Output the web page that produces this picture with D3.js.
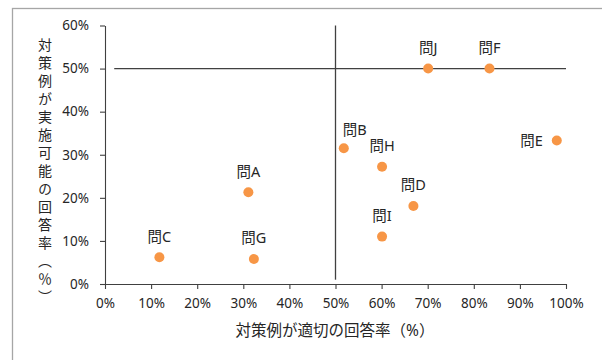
<!DOCTYPE html>
<html>
<head>
<meta charset="utf-8">
<script src="https://cdn.jsdelivr.net/npm/d3@7"></script>
<style>
  html, body { margin: 0; padding: 0; background: #fff; }
  svg { display: block; }
  text { font-family: "Noto Sans", "Noto Sans CJK JP", sans-serif; fill: #262626; }
</style>
</head>
<body>
<script>
// Question names with their two response rates (fractions)
const questions = ["問A", "問B", "問C", "問D", "問E", "問F", "問G", "問H", "問I", "問J"];
const appropriateRate = [0.311, 0.518, 0.118, 0.669, 0.980, 0.834, 0.323, 0.601, 0.601, 0.701];
const feasibleRate    = [0.213, 0.315, 0.062, 0.181, 0.333, 0.500, 0.058, 0.272, 0.110, 0.500];

// Axis ticks
const xTicks = [0, 0.1, 0.2, 0.3, 0.4, 0.5, 0.6, 0.7, 0.8, 0.9, 1.0];
const yTicks = [0, 0.1, 0.2, 0.3, 0.4, 0.5, 0.6];

// Quadrant divider lines (x1, y1, x2, y2 in data units)
const hLine = [0.02, 0.5, 1.0, 0.5];
const vLine = [0.5, 0.01, 0.5, 0.6];

const xTitle = "対策例が適切の回答率（%）";
const yTitle = "対策例が実施可能の回答率（％）";

const W = 602, H = 360;
const svg = d3.select("body").append("svg").attr("width", W).attr("height", H);

// Chart frame
svg.append("rect")
  .attr("x", 12.5).attr("y", 8.5).attr("width", 620).attr("height", 380)
  .attr("fill", "none").attr("stroke", "#a6a6a6").attr("stroke-width", 1.3);

const x = d3.scaleLinear().domain([0, 1]).range([105, 566]);
const y = d3.scaleLinear().domain([0, 0.6]).range([284, 25.5]);

const pct = d3.format(".0%");

// Axes
const gx = svg.append("g").attr("transform", `translate(0,${y(0)})`)
  .call(d3.axisBottom(x).tickValues(xTicks).tickFormat(pct).tickSize(5).tickSizeOuter(0).tickPadding(9));
const gy = svg.append("g").attr("transform", `translate(${x(0)},0)`)
  .call(d3.axisLeft(y).tickValues(yTicks).tickFormat(pct).tickSize(5).tickSizeOuter(0).tickPadding(11));
[gx, gy].forEach(g => {
  g.selectAll("path, line").attr("stroke", "#404040").attr("stroke-width", 1.1);
  g.selectAll("text").style("font-size", "13.5px").attr("fill", "#262626");
});

// Quadrant divider lines
[hLine, vLine].forEach(l => {
  svg.append("line")
    .attr("x1", x(l[0])).attr("y1", y(l[1]))
    .attr("x2", x(l[2])).attr("y2", y(l[3]))
    .attr("stroke", "#404040").attr("stroke-width", 1.3);
});

const data = questions.map((q, i) => ({ q, vx: appropriateRate[i], vy: feasibleRate[i] }));

// Points
svg.append("g").selectAll("circle").data(data).join("circle")
  .attr("cx", d => x(d.vx)).attr("cy", d => y(d.vy)).attr("r", 5)
  .attr("fill", "#f79646");

// Point labels: above by default, a few placed aside
const labelPlace = {
  "問B": { anchor: "middle", dx: 11, dy: -13.7 },
  "問E": { anchor: "end", dx: -14, dy: 5 }
};
svg.append("g").selectAll("text").data(data).join("text")
  .attr("x", d => x(d.vx) + (labelPlace[d.q] ? labelPlace[d.q].dx : 0))
  .attr("y", d => y(d.vy) + (labelPlace[d.q] ? labelPlace[d.q].dy : -15.6))
  .attr("text-anchor", d => labelPlace[d.q] ? labelPlace[d.q].anchor : "middle")
  .style("font-size", "14.5px")
  .text(d => d.q);

// Axis titles
svg.append("text")
  .attr("x", 335).attr("y", 336)
  .attr("text-anchor", "middle")
  .style("font-size", "15.5px")
  .text(xTitle);

svg.append("text")
  .attr("x", 45).attr("y", 38)
  .style("writing-mode", "vertical-rl")
  .style("text-orientation", "upright")
  .style("font-family", "'Noto Sans CJK JP', sans-serif")
  .style("font-size", "14px")
  .style("letter-spacing", "4px")
  .text(yTitle);
</script>
</body>
</html>
